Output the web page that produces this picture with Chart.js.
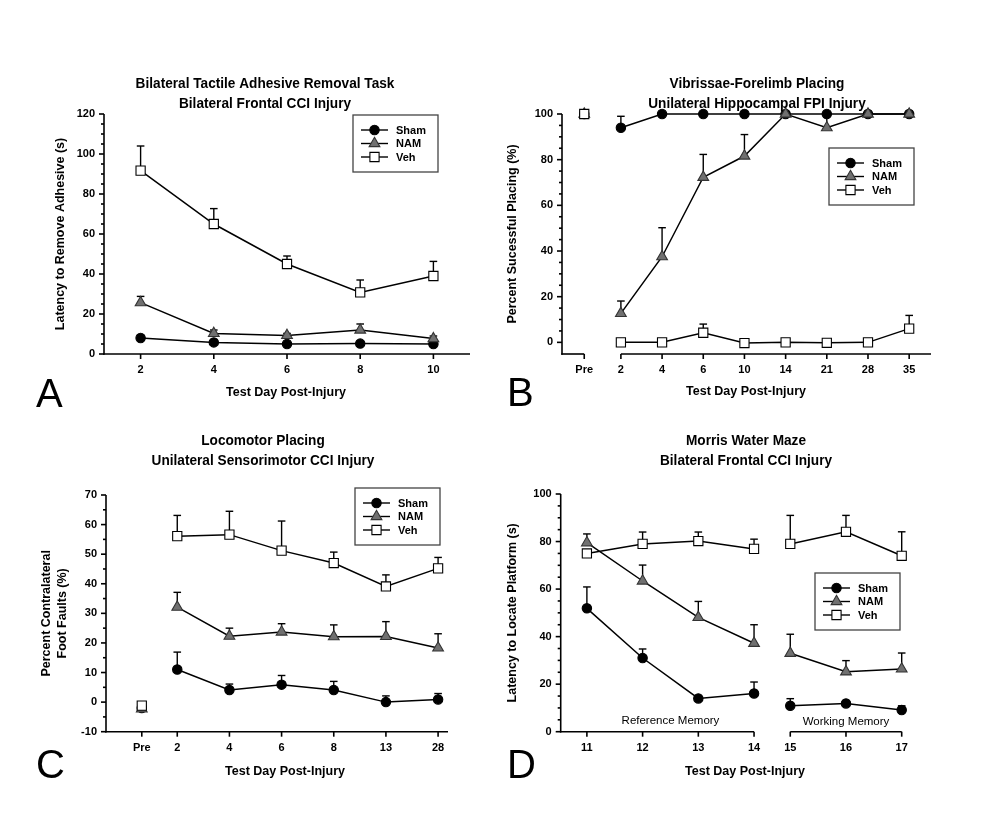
<!DOCTYPE html>
<html>
<head>
<meta charset="utf-8">
<title>Test Day Post-Injury panels</title>
<script src="https://cdn.jsdelivr.net/npm/chart.js@4.4.1/dist/chart.umd.min.js"></script>
<style>
body { margin: 0; background: #fff; }
#root { position: relative; width: 998px; height: 814px; }
#root canvas { position: absolute; }
</style>
</head>
<body>
<div id="root"></div>
<script>
// ---- data (err = top of the error bar) ----

// A: adhesive removal
const a_days = ['2', '4', '6', '8', '10']
const a_sham = [8, 5.8, 5, 5.2, 5]
const a_sham_err = [9.3, null, null, null, null]
const a_nam = [25.7, 10.3, 9.3, 12, 7.7]
const a_nam_err = [28.8, 12, 10.3, 15, 9]
const a_veh = [91.7, 65, 45, 30.8, 39]
const a_veh_err = [104, 72.7, 49, 37, 46.3]
const a_yticks = [0, 20, 40, 60, 80, 100, 120]

// B: vibrissae-forelimb placing
const b_days = ['Pre', '2', '4', '6', '10', '14', '21', '28', '35']
const b_sham = [100, 94, 100, 100, 100, 100, 100, 100, 100]
const b_sham_err = [null, 99, null, null, null, null, null, null, null]
const b_nam = [100, 12.7, 37.5, 72.3, 81.6, 100, 94, 100, 100]
const b_nam_err = [null, 18.1, 50.2, 82.3, 91, null, 100, null, null]
const b_veh = [100, 0, 0, 4.2, -0.3, 0, -0.2, 0, 6]
const b_veh_err = [null, null, null, 8, null, null, null, null, 11.8]
const b_yticks = [0, 20, 40, 60, 80, 100]

// C: locomotor placing
const c_days = ['Pre', '2', '4', '6', '8', '13', '28']
const c_sham = [-2, 11, 4.1, 5.9, 4.1, 0, 0.9]
const c_sham_err = [null, 16.9, 6.1, 9, 7, 2.1, 2.9]
const c_nam = [-2.3, 32.1, 22.3, 23.7, 22.1, 22.2, 18.3]
const c_nam_err = [null, 37.1, 25, 26.5, 26.1, 27.2, 23.1]
const c_veh = [-1.2, 56.1, 56.6, 51.2, 47, 39.1, 45.2]
const c_veh_err = [null, 63.1, 64.5, 61.2, 50.7, 43, 48.9]
const c_yticks = [-10, 0, 10, 20, 30, 40, 50, 60, 70]

// D: water maze
const d_days = ['11', '12', '13', '14', '15', '16', '17']
const d_sham = [51.9, 31, 14, 16.1, 10.9, 11.9, 9.1]
const d_sham_err = [60.9, 34.8, null, 20.9, 13.9, null, 10.9]
const d_nam = [79.5, 63.4, 48.1, 37.2, 33, 25.2, 26.4]
const d_nam_err = [83.2, 70.1, 54.8, 45, 41, 29.9, 33.1]
const d_veh = [75, 79, 80.2, 76.9, 79, 84.1, 74]
const d_veh_err = [null, 84, 84, 81, 91, 91, 84.1]
const d_yticks = [0, 20, 40, 60, 80, 100]

const groups = ['Sham', 'NAM', 'Veh']

// ---- styles ----
Chart.defaults.font.family = "'Liberation Sans', Arial, sans-serif"
Chart.defaults.color = '#000'

// titles are a narrow bold face in the original, squeeze Liberation Sans to match
const TITLE_FONT = "bold 15.5px 'Liberation Sans', Arial, sans-serif"
const TITLE_SQUEEZE = 0.88
const XLAB_FONT = "bold 12.5px 'Liberation Sans', Arial, sans-serif"
const LETTER_FONT = "40px 'Liberation Sans', Arial, sans-serif"
const NOTE_FONT = "11.5px 'Liberation Sans', Arial, sans-serif"

const marker = {
    Sham: { shape: 'circle', r: 4.7, fill: '#000', stroke: '#000', order: 3 },
    NAM: { shape: 'triangle', r: 6.2, fill: '#707070', stroke: '#333', order: 2 },
    Veh: { shape: 'rect', r: 6.5, fill: '#fff', stroke: '#000', order: 1 }
}

function line(ctx, x1, y1, x2, y2) {
    ctx.beginPath()
    ctx.moveTo(x1, y1)
    ctx.lineTo(x2, y2)
    ctx.stroke()
}

// axes, error bars, legend and loose text
const panelPlugin = {
    id: 'panel',
    beforeDatasetsDraw(chart, args, o) {
        const ctx = chart.ctx
        const xs = chart.scales.x
        const ys = chart.scales.y
        const X = v => xs.getPixelForValue(v)
        const Y = v => ys.getPixelForValue(v)
        const left = chart.chartArea.left
        const bottom = chart.chartArea.bottom
        ctx.save()
        ctx.strokeStyle = '#000'
        ctx.lineWidth = 1.6
        // y axis + ticks
        line(ctx, left, Y(o.yTop), left, bottom + 0.8)
        for (let v = o.minorFrom; v <= o.yTop + 1e-6; v += 5) {
            const major = Math.abs(v % o.majorStep) < 1e-6
            line(ctx, left - (major ? 5 : 3), Y(v), left, Y(v))
        }
        // x axis segments + ticks
        o.xSegs.forEach(s => {
            const x1 = s[0] === null ? left - 0.8 : X(s[0])
            line(ctx, x1, bottom, X(s[1]), bottom)
        })
        xs.ticks.forEach(t => line(ctx, X(t.value), bottom, X(t.value), bottom + 5))
        // error bars (upper half only)
        ctx.lineWidth = 1.4
        chart.data.datasets.forEach(ds => {
            ds.err.forEach((e, j) => {
                if (e === null) return
                const p = ds.data[j]
                const px = X(p.x)
                line(ctx, px, Y(p.y), px, Y(e))
                line(ctx, px - 3.8, Y(e), px + 3.8, Y(e))
            })
        })
        ctx.restore()
    },
    afterDatasetsDraw(chart, args, o) {
        const ctx = chart.ctx
        ctx.save()
        // legend box
        const lg = o.legend
        ctx.strokeStyle = '#444'
        ctx.lineWidth = 1.3
        ctx.strokeRect(lg.x, lg.y, 85, 57)
        chart.data.datasets.forEach((ds, i) => {
            const yy = lg.y + 15 + i * 13.5
            ctx.strokeStyle = '#000'
            ctx.lineWidth = 1.4
            line(ctx, lg.x + 8, yy, lg.x + 35, yy)
            ctx.fillStyle = ds.pointBackgroundColor
            ctx.strokeStyle = ds.pointBorderColor
            ctx.lineWidth = ds.pointBorderWidth
            Chart.helpers.drawPoint(ctx, { pointStyle: ds.pointStyle, radius: ds.pointRadius, borderWidth: ds.pointBorderWidth, rotation: 0 }, lg.x + 21.5, yy)
            ctx.fillStyle = '#000'
            ctx.font = "bold 11px 'Liberation Sans', Arial, sans-serif"
            ctx.textAlign = 'left'
            ctx.textBaseline = 'middle'
            ctx.fillText(ds.label, lg.x + 43, yy + 0.5)
        })
        // titles, x label, panel letter
        ctx.fillStyle = '#000'
        o.texts.forEach(t => {
            ctx.save()
            ctx.font = t.font
            ctx.textAlign = t.align || 'center'
            ctx.textBaseline = t.base || 'middle'
            ctx.translate(t.x, t.y)
            ctx.scale(t.squeeze || 1, 1)
            ctx.fillText(t.text, 0, 0)
            ctx.restore()
        })
        // notes placed on the data scales
        ctx.font = NOTE_FONT
        ctx.textAlign = 'center'
        ctx.textBaseline = 'middle'
        o.notes.forEach(n => {
            ctx.fillText(n.text, chart.scales.x.getPixelForValue(n.x), chart.scales.y.getPixelForValue(n.y))
        })
        ctx.restore()
    }
}

function series(name, pos, vals, errs, breakAfter) {
    const m = marker[name]
    return {
        label: name,
        data: vals.map((v, i) => ({ x: pos[i], y: v })),
        err: errs,
        borderColor: '#000',
        borderWidth: 1.5,
        pointStyle: m.shape,
        pointRadius: m.r,
        pointBackgroundColor: m.fill,
        pointBorderColor: m.stroke,
        pointBorderWidth: 1.1,
        order: m.order,
        clip: false,
        segment: {
            borderColor: c => c.p0DataIndex === breakAfter ? 'rgba(0,0,0,0)' : '#000'
        }
    }
}

function panel(p) {
    const canvas = document.createElement('canvas')
    canvas.width = 499
    canvas.height = 407
    canvas.style.left = p.left + 'px'
    canvas.style.top = p.top + 'px'
    document.getElementById('root').appendChild(canvas)

    return new Chart(canvas, {
        type: 'line',
        data: {
            datasets: [
                series('Sham', p.pos, p.vals[0], p.errs[0], p.breakAfter),
                series('NAM', p.pos, p.vals[1], p.errs[1], p.breakAfter),
                series('Veh', p.pos, p.vals[2], p.errs[2], p.breakAfter)
            ]
        },
        plugins: [panelPlugin],
        options: {
            responsive: false,
            animation: false,
            devicePixelRatio: 1,
            events: [],
            layout: { padding: { top: p.area.top, right: 499 - p.area.right, bottom: 0, left: 0 } },
            scales: {
                x: {
                    type: 'linear',
                    min: p.xMin,
                    max: p.xMax,
                    grid: { display: false, drawTicks: false },
                    border: { display: false },
                    afterBuildTicks: s => { s.ticks = p.pos.map(v => ({ value: v })) },
                    afterFit: s => { s.height = 407 - p.area.bottom },
                    ticks: {
                        autoSkip: false,
                        maxRotation: 0,
                        padding: 9.5,
                        color: '#000',
                        font: { size: 11, weight: 'bold' },
                        callback: (v, i) => p.days[i]
                    }
                },
                y: {
                    type: 'linear',
                    min: p.yMin,
                    max: p.yMax,
                    grid: { display: false, drawTicks: false },
                    border: { display: false },
                    afterBuildTicks: s => { s.ticks = p.yticks.map(v => ({ value: v })) },
                    afterFit: s => { s.width = p.area.left },
                    ticks: {
                        padding: 9,
                        color: '#000',
                        font: { size: 11, weight: 'bold' },
                        callback: v => String(v)
                    },
                    title: {
                        display: true,
                        text: p.yTitle,
                        color: '#000',
                        font: { size: 12.5, weight: 'bold', lineHeight: '16px' },
                        padding: { top: p.yTitlePad, bottom: 0 }
                    }
                }
            },
            plugins: {
                legend: { display: false },
                tooltip: { enabled: false },
                panel: {
                    yTop: p.yticks[p.yticks.length - 1],
                    minorFrom: p.yticks[0],
                    majorStep: p.yticks[1] - p.yticks[0],
                    xSegs: p.xSegs,
                    legend: p.legend,
                    notes: p.notes || [],
                    texts: [
                        { text: p.title[0], x: p.titleX, y: p.titleY, font: TITLE_FONT, squeeze: TITLE_SQUEEZE },
                        { text: p.title[1], x: p.titleX, y: p.titleY + 19.5, font: TITLE_FONT, squeeze: TITLE_SQUEEZE },
                        { text: 'Test Day Post-Injury', x: p.xTitleX, y: p.xTitleY, font: XLAB_FONT },
                        { text: p.letter, x: p.letterX, y: p.letterY, font: LETTER_FONT, align: 'left', base: 'alphabetic' }
                    ]
                }
            }
        }
    })
}

// A
panel({
    left: 0, top: 0,
    area: { left: 104, right: 470, top: 114, bottom: 354 },
    days: a_days, pos: a_days.map(Number), xMin: 1, xMax: 11, breakAfter: -1,
    xSegs: [[null, 11]],
    vals: [a_sham, a_nam, a_veh], errs: [a_sham_err, a_nam_err, a_veh_err],
    yMin: 0, yMax: 120, yticks: a_yticks,
    yTitle: 'Latency to Remove Adhesive (s)', yTitlePad: 53,
    title: ['Bilateral Tactile Adhesive Removal Task', 'Bilateral Frontal CCI Injury'],
    titleX: 265, titleY: 84,
    xTitleX: 286, xTitleY: 393,
    letter: 'A', letterX: 36, letterY: 407,
    legend: { x: 353, y: 115 }
})

// B
panel({
    left: 499, top: 0,
    area: { left: 63, right: 432, top: 114, bottom: 354 },
    days: b_days, pos: b_days.map((d, i) => i === 0 ? -0.89 : i - 1), xMin: -1.43, xMax: 7.53, breakAfter: 0,
    xSegs: [[null, -0.89], [0, 7.53]],
    vals: [b_sham, b_nam, b_veh], errs: [b_sham_err, b_nam_err, b_veh_err],
    yMin: -5.1, yMax: 100, yticks: b_yticks,
    yTitle: 'Percent Sucessful Placing (%)', yTitlePad: 6,
    title: ['Vibrissae-Forelimb Placing', 'Unilateral Hippocampal FPI Injury'],
    titleX: 258, titleY: 84,
    xTitleX: 247, xTitleY: 392,
    letter: 'B', letterX: 8, letterY: 406,
    legend: { x: 330, y: 148 }
})

// C
panel({
    left: 0, top: 407,
    area: { left: 106, right: 448, top: 88, bottom: 324.7 },
    days: c_days, pos: c_days.map((d, i) => i === 0 ? -0.68 : i - 1), xMin: -1.366, xMax: 5.19, breakAfter: 0,
    xSegs: [[null, 5.19]],
    vals: [c_sham, c_nam, c_veh], errs: [c_sham_err, c_nam_err, c_veh_err],
    yMin: -10, yMax: 70, yticks: c_yticks,
    yTitle: ['Percent Contralateral', 'Foot Faults (%)'], yTitlePad: 39,
    title: ['Locomotor Placing', 'Unilateral Sensorimotor CCI Injury'],
    titleX: 263, titleY: 34,
    xTitleX: 285, xTitleY: 365,
    letter: 'C', letterX: 36, letterY: 371,
    legend: { x: 355, y: 81 }
})

// D
panel({
    left: 499, top: 407,
    area: { left: 61.7, right: 402.7, top: 87, bottom: 324.7 },
    days: d_days, pos: d_days.map((d, i) => i < 4 ? i : i - 0.35), xMin: -0.47, xMax: 5.65, breakAfter: 3,
    xSegs: [[null, 3], [3.65, 5.65]],
    vals: [d_sham, d_nam, d_veh], errs: [d_sham_err, d_nam_err, d_veh_err],
    yMin: 0, yMax: 100, yticks: d_yticks,
    yTitle: 'Latency to Locate Platform (s)', yTitlePad: 6,
    title: ['Morris Water Maze', 'Bilateral Frontal CCI Injury'],
    titleX: 247, titleY: 34,
    xTitleX: 246, xTitleY: 365,
    letter: 'D', letterX: 8, letterY: 371,
    legend: { x: 316, y: 166 },
    notes: [{ text: 'Reference Memory', x: 1.5, y: 4.5 }, { text: 'Working Memory', x: 4.65, y: 4.2 }]
})
</script>
</body>
</html>
